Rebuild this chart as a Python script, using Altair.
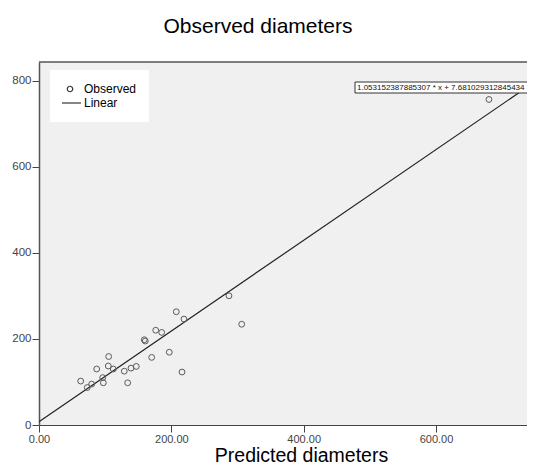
import altair as alt
import pandas as pd

# ---- data ----
predicted = [63.0, 73.0, 79.6, 87.2, 96.3, 97.2, 105.3, 104.7, 112.3, 128.9,
             134.0, 139.0, 147.0, 159.1, 160.6, 170.3, 176.4, 185.4, 196.9,
             207.5, 216.1, 219.1, 287.1, 306.3, 680.0]
observed = [102, 87, 95, 130, 110, 98, 159, 137, 130, 125,
            98, 132, 136, 198, 195, 157, 220, 215, 169,
            263, 123, 246, 300, 234, 756]

slope = 1.053152387885307
intercept = 7.681029312845434
line_x = [0, 740]
equation = "1.053152387885307 * x + 7.681029312845434"
series_names = ["Observed", "Linear"]

x_ticks = [0, 200, 400, 600]
y_ticks = [0, 200, 400, 600, 800]
x_domain = [0, 737.5]
y_domain = [0, 843]

W, H = 488, 363
FONT = "Liberation Sans"

pts = pd.DataFrame({"pred": predicted, "obs": observed, "series": "Observed"})
ln = pd.DataFrame({"pred": line_x})
one = pd.DataFrame({"k": [0]})

xs = alt.Scale(domain=x_domain, nice=False, zero=False)
ys = alt.Scale(domain=y_domain, nice=False, zero=False)

x_axis = alt.Axis(values=x_ticks, format=".2f", title="Predicted diameters",
                  titleFont=FONT, titleFontSize=19.5, titleFontWeight="normal",
                  titleColor="#000000", titleBaseline="alphabetic",
                  titleY=36, titleX=262, titleAlign="center",
                  labelFont=FONT, labelFontSize=11, labelColor="#444444",
                  labelFlush=False, labelOverlap=False, labelPadding=1,
                  tickSize=7, tickColor="#444444", tickWidth=1,
                  domainColor="#444444", domainWidth=1.2, grid=False)
y_axis = alt.Axis(values=y_ticks, format="d", title=None,
                  labelFont=FONT, labelFontSize=11.5, labelColor="#444444",
                  labelFlush=False, labelOverlap=False, labelPadding=1,
                  tickSize=7, tickColor="#444444", tickWidth=1,
                  domainColor="#555555", domainWidth=1.5, grid=False)

points = alt.Chart(pts).mark_point(filled=False, size=34, strokeWidth=1,
                                    color="#5a5a5a", opacity=1).encode(
    x=alt.X("pred:Q", scale=xs, axis=x_axis),
    y=alt.Y("obs:Q", scale=ys, axis=y_axis),
    shape=alt.Shape("series:N",
                    scale=alt.Scale(domain=series_names, range=["circle", "M-4,0H4"]),
                    legend=alt.Legend(title=None, orient="none", legendX=11, legendY=8,
                                      fillColor="white", padding=12, rowPadding=0,
                                      clipHeight=14, symbolOffset=2,
                                      symbolSize=30, symbolStrokeWidth=1.2,
                                      symbolStrokeColor="#333333", symbolFillColor="transparent",
                                      labelFont=FONT, labelFontSize=12, labelColor="#000000",
                                      labelOffset=8)),
)

fit = alt.Chart(ln).transform_calculate(
    obs=f"{slope} * datum.pred + {intercept}"
).mark_line(color="#222222", strokeWidth=1.2, clip=True).encode(
    x=alt.X("pred:Q", scale=xs),
    y=alt.Y("obs:Q", scale=ys),
)

top_border = alt.Chart(one).mark_rule(color="#555555", strokeWidth=1.5).encode(
    x=alt.value(0), x2=alt.value(W), y=alt.value(0)
)

eq_box = alt.Chart(one).mark_rect(fill="white", stroke="#333333", strokeWidth=1).encode(
    x=alt.value(316), x2=alt.value(W + 5), y=alt.value(20), y2=alt.value(31)
)
eq_text = alt.Chart(one).mark_text(align="left", baseline="middle", font=FONT,
                                   fontSize=8, color="#111111").encode(
    x=alt.value(318), y=alt.value(25.8), text=alt.value(equation)
)

chart = alt.layer(fit, points, eq_box, eq_text, top_border).properties(
    width=W, height=H,
    title=alt.TitleParams("Observed diameters", font=FONT, fontSize=21,
                          fontWeight="normal", color="#000000", anchor="middle",
                          frame="group", dx=-25, offset=7, baseline="alphabetic"),
    padding={"left": 31, "top": 54, "right": 0, "bottom": 39},
    autosize=alt.AutoSizeParams(type="none"),
    background="white",
).configure_view(fill="#f0f0f0", stroke=None)

chart.save("out.html", embed_options={"renderer": "svg", "actions": False})
